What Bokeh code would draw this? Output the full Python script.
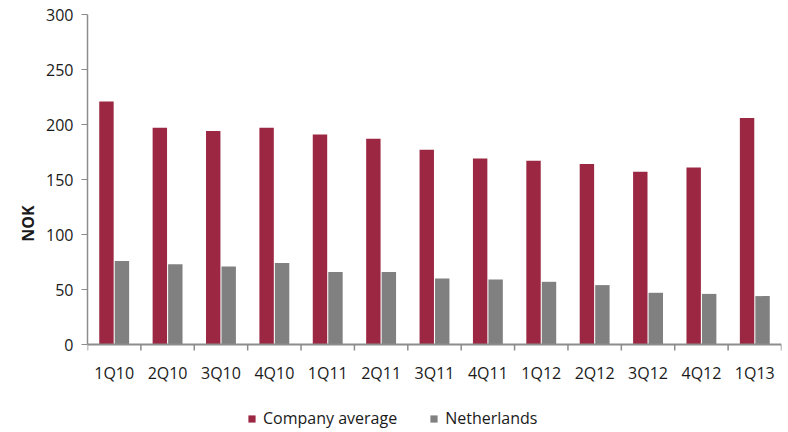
from bokeh.plotting import figure
from bokeh.models import (ColumnDataSource, Range1d, LinearAxis, FixedTicker, Legend, LegendItem, Title)
from bokeh.core.properties import value
from bokeh.transform import dodge
from bokeh.embed import file_html
from bokeh.resources import INLINE

quarters = ["1Q10", "2Q10", "3Q10", "4Q10", "1Q11", "2Q11", "3Q11", "4Q11",
            "1Q12", "2Q12", "3Q12", "4Q12", "1Q13"]
company_average = [221, 197, 194, 197, 191, 187, 177, 169, 167, 164, 157, 161, 206]
netherlands = [76, 73, 71, 74, 66, 66, 60, 59, 57, 54, 47, 46, 44]
y_ticks = [0, 50, 100, 150, 200, 250, 300]
y_min, y_max = 0, 300

RED = "#9B2743"
GREY = "#808080"
AXIS = "#8C8C8C"
TXT = "#1a1a1a"
FONT = "Open Sans"

n = len(quarters)
centers = [i + 0.5 for i in range(n)]
bounds = list(range(n + 1))
src = ColumnDataSource(dict(xc=centers, ca=company_average, nl=netherlands, q=quarters))

# frame extends below the zero line so the category labels and legend sit inside it
p = figure(width=788, height=432, output_backend="svg", toolbar_location=None,
           x_range=Range1d(0, n), y_range=Range1d(-80, y_max),
           x_axis_type=None, y_axis_type=None,
           frame_width=694, frame_height=418,
           min_border_left=87, min_border_right=7, min_border_top=14, min_border_bottom=0)
p.outline_line_color = None
p.xgrid.visible = False
p.ygrid.visible = False
p.background_fill_color = "white"
p.border_fill_color = "white"

r1 = p.vbar(x=dodge("xc", -0.145), top="ca", bottom=y_min, width=0.27, source=src,
            fill_color=RED, line_color=None)
r2 = p.vbar(x=dodge("xc", 0.145), top="nl", bottom=y_min, width=0.27, source=src,
            fill_color=GREY, line_color=None)

# x axis drawn at y = 0: line, boundary ticks, category labels
p.segment(x0=[0], x1=[n], y0=[y_min], y1=[y_min], line_color=AXIS, line_width=2)
p.segment(x0=bounds, x1=bounds, y0=[y_min] * len(bounds), y1=[y_min - 5.5] * len(bounds),
          line_color=AXIS, line_width=1.5)
p.text(x="xc", y=y_min - 25.5, text="q", source=src, text_align="center",
       text_baseline="middle", text_font=value(FONT), text_font_size="16px", text_color=TXT)

# y axis
yax = LinearAxis(ticker=FixedTicker(ticks=y_ticks), bounds=(y_min, y_max))
yax.axis_line_color = AXIS
yax.axis_line_width = 1.5
yax.major_tick_line_color = AXIS
yax.major_tick_out = 6
yax.major_tick_in = 0
yax.minor_tick_line_color = None
yax.major_label_text_font = FONT
yax.major_label_text_font_size = "16px"
yax.major_label_text_color = TXT
yax.major_label_standoff = 8
p.add_layout(yax, "left")

ytitle = Title(text="NOK", align="center", offset=44, text_font=FONT,
               text_font_size="16px", text_font_style="bold", text_color=TXT)
p.add_layout(ytitle, "left")

legend = Legend(items=[LegendItem(label="Company average", renderers=[r1]),
                       LegendItem(label="Netherlands", renderers=[r2])],
                orientation="horizontal", location=(160, 3),
                glyph_width=9, glyph_height=9, label_text_font=FONT,
                label_text_font_size="16px", label_text_color=TXT,
                spacing=32, padding=0, margin=0, label_standoff=7,
                border_line_color=None, background_fill_alpha=0)
p.add_layout(legend, "center")

open("out.html", "w").write(file_html(p, INLINE))
